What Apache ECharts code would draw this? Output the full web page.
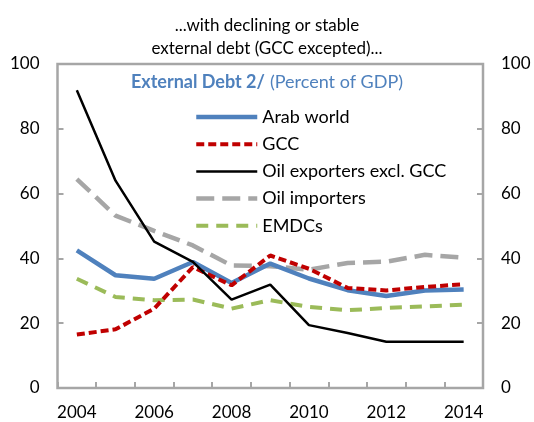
<!DOCTYPE html>
<html>
<head>
<meta charset="utf-8">
<script src="https://cdn.jsdelivr.net/npm/echarts@6/dist/echarts.min.js"></script>
<style>
html,body{margin:0;padding:0;background:#fff;}
#c{width:534px;height:422px;}
</style>
</head>
<body>
<div id="c"></div>
<script>
var years = ['2004','2005','2006','2007','2008','2009','2010','2011','2012','2013','2014'];
var arabWorld = [42.5, 34.8, 33.7, 38.9, 32.4, 38.4, 33.8, 30.2, 28.4, 30.1, 30.4];
var gcc = [16.5, 18.1, 24.5, 37.3, 31.7, 40.9, 36.8, 30.9, 30.1, 31.2, 32.0];
var oilExpExGcc = [91.9, 64.0, 45.2, 38.9, 27.3, 31.9, 19.4, 17.0, 14.3, 14.3, 14.3];
var oilImporters = [64.5, 53.2, 48.5, 44.0, 37.8, 37.6, 36.5, 38.6, 39.0, 41.1, 40.2];
var emdcs = [33.7, 28.1, 27.1, 27.3, 24.5, 27.1, 25.0, 24.0, 24.7, 25.2, 25.7];
var yTicks = [0, 20, 40, 60, 80, 100];

var FONT = 'Lato';
var chart = echarts.init(document.getElementById('c'), null, {renderer: 'canvas'});

function yAxisCfg(pos) {
  return {
    type: 'value', position: pos, min: yTicks[0], max: yTicks[yTicks.length - 1], interval: 20,
    axisLine: {show: false},
    axisTick: {show: true, inside: true, length: 6, lineStyle: {color: '#a6a6a6', width: 2}},
    axisLabel: {color: '#000', fontSize: 17, fontFamily: FONT, margin: 18},
    splitLine: {show: false}
  };
}

var styles = {
  'Arab world': {color: '#4f81bd', width: 4.5, type: 'solid', z: 5},
  'GCC': {color: '#c00000', width: 4, type: [8, 4], z: 6},
  'Oil exporters excl. GCC': {color: '#000000', width: 2.5, type: 'solid', z: 7},
  'Oil importers': {color: '#a6a6a6', width: 4.5, type: [18, 8], z: 3},
  'EMDCs': {color: '#9bbb59', width: 4, type: [12, 8], z: 2}
};

function mk(name, data) {
  var s = styles[name];
  return {
    name: name, type: 'line', data: data, symbol: 'none', z: s.z,
    lineStyle: {color: s.color, width: s.width, type: s.type, cap: 'butt'},
    itemStyle: {color: s.color},
    emphasis: {disabled: true}, animation: false
  };
}

var legendNames = ['Arab world', 'GCC', 'Oil exporters excl. GCC', 'Oil importers', 'EMDCs'];

chart.setOption({
  animation: false,
  title: [{
    text: '...with declining or stable\nexternal debt (GCC excepted)...',
    left: 'center', top: 9,
    textStyle: {fontFamily: FONT, fontSize: 17, fontWeight: 'normal', color: '#000', lineHeight: 23}
  }, {
    text: '{b|External Debt 2/} {n|(Percent of GDP)}',
    left: 'center', top: 68,
    textStyle: {
      rich: {
        b: {fontFamily: FONT, fontSize: 18, fontWeight: 'bold', color: '#4f81bd'},
        n: {fontFamily: FONT, fontSize: 18, fontWeight: 'normal', color: '#4f81bd'}
      }
    }
  }],
  legend: {
    orient: 'vertical', left: 189, top: 103,
    itemWidth: 61, itemHeight: 14, itemGap: 9.2,
    textStyle: {fontFamily: FONT, fontSize: 18, color: '#000', lineHeight: 18},
    data: legendNames.map(function (n) {
      var s = styles[n];
      return {
        name: n,
        itemStyle: {opacity: 0},
        lineStyle: {width: s.width, type: s.type, color: s.color, cap: 'butt'}
      };
    })
  },
  grid: {
    left: 57.5, right: 51, top: 64, bottom: 34,
    show: true, borderColor: '#a6a6a6', borderWidth: 2.5, containLabel: false
  },
  xAxis: {
    type: 'category', data: years, boundaryGap: true,
    axisLine: {show: false},
    axisTick: {show: true, inside: true, length: 6, interval: 0, lineStyle: {color: '#a6a6a6', width: 2}},
    axisLabel: {interval: 1, color: '#000', fontSize: 17, fontFamily: FONT, margin: 16}
  },
  yAxis: [yAxisCfg('left'), yAxisCfg('right')],
  series: [
    mk('Arab world', arabWorld),
    mk('GCC', gcc),
    mk('Oil exporters excl. GCC', oilExpExGcc),
    mk('Oil importers', oilImporters),
    mk('EMDCs', emdcs)
  ]
});
</script>
</body>
</html>
